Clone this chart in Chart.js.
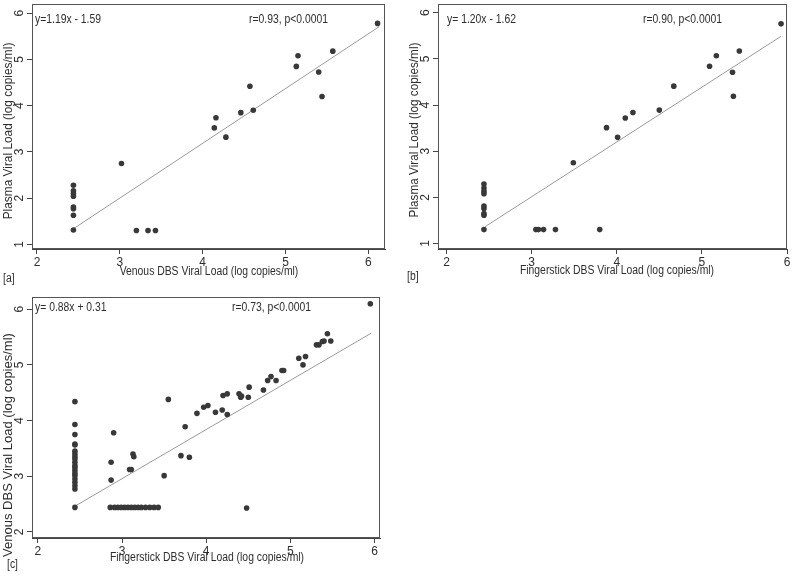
<!DOCTYPE html>
<html>
<head>
<meta charset="utf-8">
<script src="https://cdn.jsdelivr.net/npm/chart.js@4.4.1/dist/chart.umd.min.js"></script>
<style>
  body { margin: 0; background: #fff; width: 800px; height: 580px; position: relative; overflow: hidden; }
  .panel { position: absolute; width: 400px; height: 290px; }
</style>
</head>
<body>
<div class="panel" style="left:0;top:0"><canvas id="chartA"></canvas></div>
<div class="panel" style="left:400px;top:0"><canvas id="chartB"></canvas></div>
<div class="panel" style="left:0;top:290px"><canvas id="chartC"></canvas></div>
<script>
// panel [a]: venous DBS vs plasma
const aX = [2.44, 2.44, 2.44, 2.44, 2.44, 2.44, 2.44, 2.44, 3.02, 3.20, 3.34, 3.43,
            4.14, 4.16, 4.28, 4.46, 4.61, 4.57, 5.13, 5.15, 5.40, 5.44, 5.57, 6.11];
const aY = [2.28, 2.16, 2.10, 2.04, 1.81, 1.77, 1.63, 1.31, 2.75, 1.30, 1.30, 1.30,
            3.52, 3.74, 3.32, 3.85, 3.90, 4.42, 4.85, 5.08, 4.73, 4.20, 5.18, 5.78];
const fitA = [[2.45, 1.35], [6.13, 5.71]];

// panel [b]: fingerstick DBS vs plasma
const bX = [2.44, 2.44, 2.44, 2.44, 2.44, 2.44, 2.44, 2.44, 2.44, 3.05, 3.08, 3.14, 3.28, 3.80,
            3.49, 3.88, 4.01, 4.10, 4.19, 4.50, 4.67, 5.09, 5.17, 5.36, 5.37, 5.44, 5.93];
const bY = [2.29, 2.20, 2.13, 2.08, 1.81, 1.76, 1.65, 1.61, 1.30, 1.30, 1.30, 1.30, 1.30, 1.30,
            2.75, 3.51, 3.30, 3.72, 3.84, 3.89, 4.41, 4.84, 5.07, 4.71, 4.19, 5.17, 5.76];
const fitB = [[2.45, 1.36], [5.93, 5.49]];

// panel [c]: fingerstick DBS vs venous DBS
const cX = [2.44, 2.44, 2.44, 2.44, 2.44, 2.44, 2.44, 2.44, 2.44, 2.44,
            2.44, 2.44, 2.44, 2.44, 2.44, 2.44, 2.44, 2.44, 2.44, 2.44,
            2.86, 2.91, 2.95, 2.99, 3.03, 3.07, 3.11, 3.15, 3.19, 3.23, 3.28, 3.33, 3.38, 3.43,
            2.87, 2.87, 2.90, 3.09, 3.11, 3.13, 3.14, 3.50, 3.55, 3.70, 3.75, 3.80,
            3.89, 3.97, 4.02, 4.11, 4.19, 4.20, 4.25, 4.25, 4.39, 4.41, 4.42, 4.50, 4.51, 4.48,
            4.68, 4.73, 4.77, 4.83, 4.90, 4.92, 5.10, 5.15, 5.18, 5.31, 5.34, 5.38, 5.40,
            5.44, 5.48, 5.95];
const cY = [4.34, 3.93, 3.75, 3.58, 3.56, 3.45, 3.40, 3.35, 3.31, 3.25,
            3.19, 3.15, 3.10, 3.05, 3.01, 2.95, 2.89, 2.83, 2.77, 2.44,
            2.44, 2.44, 2.44, 2.44, 2.44, 2.44, 2.44, 2.44, 2.44, 2.44, 2.44, 2.44, 2.44, 2.44,
            3.25, 2.93, 3.78, 3.12, 3.12, 3.40, 3.35, 3.01, 4.38, 3.37, 3.89, 3.34,
            4.13, 4.24, 4.27, 4.15, 4.19, 4.45, 4.48, 4.11, 4.48, 4.42, 4.44, 4.42, 4.60, 2.43,
            4.55, 4.72, 4.79, 4.72, 4.90, 4.90, 5.12, 5.00, 5.15, 5.36, 5.36, 5.42, 5.43,
            5.56, 5.43, 6.10];
const fitC = [[2.45, 2.47], [5.96, 5.57]];

const xTicks = [2, 3, 4, 5, 6];
const yTicksAB = [1, 2, 3, 4, 5, 6];
const yTicksC = [2, 3, 4, 5, 6];

const FONT = "'Liberation Sans', Arial, sans-serif";
const INK = '#2e2e2e';
const SQUEEZE = 0.83; // the original text is set in a narrow face

// frame, rotated y tick labels and text notes
const decor = {
  id: 'decor',
  afterDraw(chart) {
    const { ctx, chartArea: ca } = chart;
    const o = chart.config.options.plugins.decor;
    ctx.save();
    ctx.strokeStyle = '#555';
    ctx.lineWidth = 1;
    ctx.strokeRect(Math.round(ca.left) + 0.5, Math.round(ca.top) + 0.5,
      Math.round(ca.right - ca.left) - 1, Math.round(ca.bottom - ca.top) - 1);

    ctx.fillStyle = INK;
    ctx.font = '12px ' + FONT;
    ctx.textAlign = 'center';
    ctx.textBaseline = 'middle';
    const ys = chart.scales.y;
    ys.ticks.forEach(t => {
      ctx.save();
      ctx.translate(ca.left - 12.5, ys.getPixelForValue(t.value));
      ctx.rotate(-Math.PI / 2);
      ctx.fillText(String(t.value), 0, 0);
      ctx.restore();
    });

    ctx.font = '12.5px ' + FONT;
    o.notes.forEach(n => {
      ctx.save();
      ctx.textAlign = n.align || 'left';
      ctx.translate(n.x, n.y);
      if (n.rot) ctx.rotate(-Math.PI / 2);
      ctx.scale(n.sq || SQUEEZE, 1);
      ctx.fillText(n.t, 0, 0);
      ctx.restore();
    });
    ctx.restore();
  }
};

function toPoints(xs, ys) {
  return xs.map((x, i) => ({ x: x, y: ys[i] }));
}

function makePanel(id, p) {
  new Chart(document.getElementById(id), {
    type: 'scatter',
    data: {
      datasets: [
        {
          data: toPoints(p.xs, p.ys),
          pointRadius: 2.8,
          pointBackgroundColor: '#383838',
          pointBorderWidth: 0
        },
        {
          type: 'line',
          data: p.fit.map(f => ({ x: f[0], y: f[1] })),
          borderColor: '#9a9a9a',
          borderWidth: 1,
          pointRadius: 0,
          fill: false
        }
      ]
    },
    options: {
      responsive: true,
      maintainAspectRatio: false,
      animation: false,
      events: [],
      layout: { padding: { left: 0, top: p.top, right: p.right, bottom: 0 } },
      plugins: {
        legend: { display: false },
        tooltip: { enabled: false },
        decor: { notes: p.notes }
      },
      scales: {
        x: {
          type: 'linear',
          min: p.xr[0],
          max: p.xr[1],
          afterBuildTicks: s => { s.ticks = xTicks.map(v => ({ value: v })); },
          afterFit: s => { s.height = p.xh; },
          grid: { drawOnChartArea: false, drawTicks: true, tickLength: 5, color: '#444' },
          border: { display: true, color: '#444' },
          ticks: { color: INK, font: { family: FONT, size: 12 }, padding: 1, maxRotation: 0, autoSkip: false }
        },
        y: {
          type: 'linear',
          min: p.yr[0],
          max: p.yr[1],
          afterBuildTicks: s => { s.ticks = p.yTicks.map(v => ({ value: v })); },
          afterFit: s => { s.width = p.yw; },
          grid: { drawOnChartArea: false, drawTicks: true, tickLength: 5, color: '#444' },
          border: { display: true, color: '#444' },
          ticks: { display: false }
        }
      }
    },
    plugins: [decor]
  });
}

makePanel('chartA', {
  xs: aX, ys: aY, fit: fitA,
  xr: [1.94, 6.2], yr: [0.9, 6.2], yTicks: yTicksAB,
  yw: 32, xh: 41, top: 4, right: 15,
  notes: [
    { t: 'y=1.19x - 1.59', x: 35, y: 20 },
    { t: 'r=0.93, p<0.0001', x: 249, y: 20 },
    { t: 'Venous DBS Viral Load (log copies/ml)', x: 209, y: 272, align: 'center' },
    { t: 'Plasma Viral Load (log copies/ml)', x: 8.5, y: 131, align: 'center', rot: true, sq: 0.95 },
    { t: '[a]', x: 3, y: 279 }
  ]
});

makePanel('chartB', {
  xs: bX, ys: bY, fit: fitB,
  xr: [1.9, 6.0], yr: [0.88, 6.19], yTicks: yTicksAB,
  yw: 38, xh: 41, top: 4, right: 13,
  notes: [
    { t: 'y= 1.20x - 1.62', x: 47, y: 20 },
    { t: 'r=0.90, p<0.0001', x: 243, y: 20 },
    { t: 'Fingerstick DBS Viral Load (log copies/ml)', x: 217, y: 271, align: 'center' },
    { t: 'Plasma Viral Load (log copies/ml)', x: 15, y: 130, align: 'center', rot: true, sq: 0.94 },
    { t: '[b]', x: 7, y: 277 }
  ]
});

makePanel('chartC', {
  xs: cX, ys: cY, fit: fitC,
  xr: [1.93, 6.065], yr: [1.89, 6.22], yTicks: yTicksC,
  yw: 32, xh: 42, top: 7, right: 20,
  notes: [
    { t: 'y= 0.88x + 0.31', x: 35, y: 18 },
    { t: 'r=0.73, p<0.0001', x: 232, y: 18 },
    { t: 'Fingerstick DBS Viral Load (log copies/ml)', x: 207, y: 268, align: 'center' },
    { t: 'Venous DBS Viral Load (log copies/ml)', x: 8.5, y: 155, align: 'center', rot: true, sq: 1.04 },
    { t: '[c]', x: 7, y: 275 }
  ]
});
</script>
</body>
</html>
